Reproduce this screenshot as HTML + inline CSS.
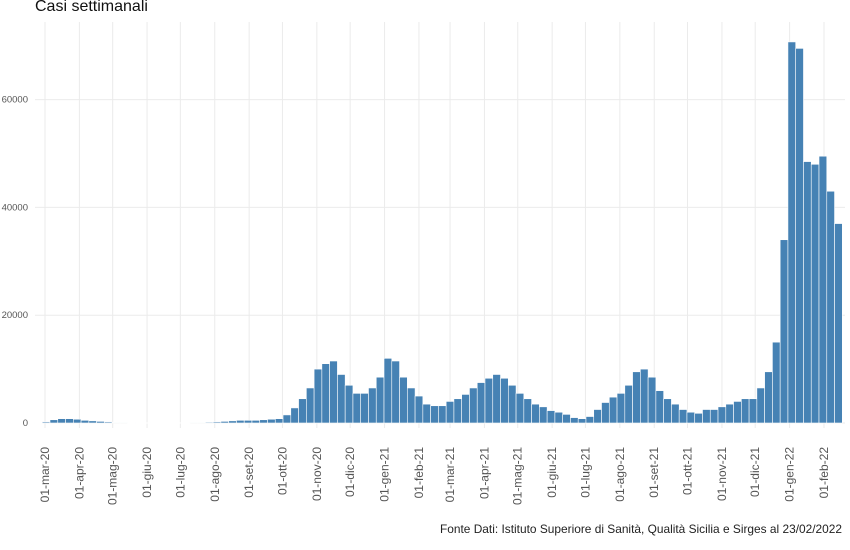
<!DOCTYPE html>
<html><head><meta charset="utf-8"><style>
html,body{margin:0;padding:0;background:#fff;}
svg{display:block;font-family:"Liberation Sans",sans-serif;}
</style></head><body>
<svg id="chart" width="850" height="550" viewBox="0 0 850 550" xmlns="http://www.w3.org/2000/svg">
<text x="35" y="11" font-size="16" fill="#111">Casi settimanali</text>
<g id="grid"></g>
<g id="bars"></g>
<g id="ylabels"></g>
<g id="xlabels"></g>
<text x="842" y="533" font-size="12" fill="#222" text-anchor="end" textLength="402" lengthAdjust="spacingAndGlyphs">Fonte Dati: Istituto Superiore di Sanità, Qualità Sicilia e Sirges al 23/02/2022</text>
</svg>
<script>
const cases2020 = [0.05,0.2,0.6,0.8,0.8,0.7,0.5,0.4,0.3,0.2,
 0.1,0.1,0.05,0.05,0.05,0.05,0.05,0.05,0.05,0.05,
 0.1,0.1,0.15,0.2,0.3,0.4,0.5,0.5,0.5,0.6,
 0.7,0.8,1.5,2.8,4.5,6.5,10,11,11.5,9,
 7,5.5,5.5,6.5,8.5];
const cases2021 = [12,11.5,8.5,6.5, 5,3.5,3.2,3.2, 4,4.5,5.3,6.5, 7.5,8.3,9,8.3,
 7,5.5,4.5,3.5, 3,2.3,2,1.6, 1,0.8,1.2,2.5, 3.8,4.8,5.5,7, 9.5,10,8.5,6,
 4.5,3.5,2.5,2, 1.8,2.5,2.5,3, 3.5,4,4.5,4.5, 6.5,9.5,15,34];
const cases2022 = [70.7,69.5,48.5,48,49.5,43,37];
const firstWeek = "2020-02-24";
const yTicks = [0,20000,40000,60000];
const yTickLabels = ["0","20000","40000","60000"];
const xTickLabels = ["01-mar-20","01-apr-20","01-mag-20","01-giu-20","01-lug-20","01-ago-20","01-set-20","01-ott-20","01-nov-20","01-dic-20","01-gen-21","01-feb-21","01-mar-21","01-apr-21","01-mag-21","01-giu-21","01-lug-21","01-ago-21","01-set-21","01-ott-21","01-nov-21","01-dic-21","01-gen-22","01-feb-22"];

const NS="http://www.w3.org/2000/svg";
const origin=Date.UTC(2020,2,1);
const pxDay=(824-45)/702;
function x(ms){return 45+(ms-origin)/86400000*pxDay;}
function y(v){return 423-v*0.00539;}
function mk(tag,attrs,parent){const e=document.createElementNS(NS,tag);for(const k in attrs)e.setAttribute(k,attrs[k]);parent.appendChild(e);return e;}
const grid=document.getElementById('grid'),bars=document.getElementById('bars'),yl=document.getElementById('ylabels'),xl=document.getElementById('xlabels');
yTicks.forEach((t,i)=>{
  const l=mk('line',{x1:35,x2:845,y1:y(t),y2:y(t),stroke:'#ebebeb','stroke-width':1},grid);
  
  
  const tx=mk('text',{x:28,y:y(t)+3,'font-size':9.5,fill:'#555','text-anchor':'end'},yl);
  tx.textContent=yTickLabels[i];
  
  
});
xTickLabels.forEach((lab,i)=>{
  const d=Date.UTC(2020,2+i,1);
  const gx=x(d);
  const l=mk('line',{x1:gx,x2:gx,y1:22,y2:428,stroke:'#ebebeb','stroke-width':1},grid);
  
  
  const tx=mk('text',{x:0,y:0,'font-size':12,fill:'#555','text-anchor':'end',transform:`translate(${gx+4},447) rotate(-90)`},xl);
  tx.textContent=lab;
  
  
});
const all=cases2020.concat(cases2021,cases2022);
const start=Date.parse(firstWeek+"T00:00:00Z");
const bw=7*pxDay;
all.forEach((v,i)=>{
  const cx=x(start+i*7*86400000);
  const val=v*1000;
  const r=mk('rect',{x:cx-bw/2,y:y(val),width:bw,height:Math.max(0.5,423-y(val)),fill:'#4682b4',stroke:'#ffffff','stroke-width':0.6},bars);
  
  
});
</script>
</body></html>
